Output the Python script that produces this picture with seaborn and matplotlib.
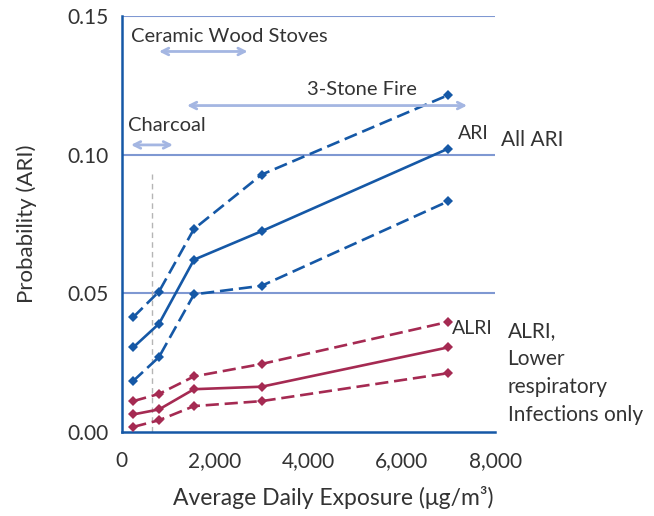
import matplotlib
matplotlib.use("Agg")
import matplotlib.pyplot as plt
import pandas as pd
import seaborn as sns

# exposure levels (ug/m3)
exposure = [250, 800, 1550, 3000, 7000]

# ARI probability with bounds
ari_mid = [0.0305, 0.0390, 0.0621, 0.0724, 0.1022]
ari_upper = [0.0414, 0.0506, 0.0732, 0.0928, 0.1215]
ari_lower = [0.0184, 0.0270, 0.0496, 0.0527, 0.0832]

# ALRI probability with bounds
alri_mid = [0.0063, 0.0081, 0.0154, 0.0163, 0.0305]
alri_upper = [0.0111, 0.0137, 0.0200, 0.0245, 0.0397]
alri_lower = [0.0018, 0.0042, 0.0093, 0.0111, 0.0212]

# stove exposure ranges (start, end) and labels
stove_names = ["Ceramic Wood Stoves", "3-Stone Fire", "Charcoal"]
stove_ranges = [(800, 2700), (1400, 7400), (200, 1100)]
stove_arrow_y = [0.1372, 0.1177, 0.1035]
stove_label_xy = [(200, 0.1427), (5150, 0.1236), (130, 0.1104)]

threshold_x = 650

blue = "#1558a6"
red = "#a52a52"
grid_col = "#7f98d2"
arrow_col = "#a4b6e2"
text_col = "#333333"

rows = []
for outcome, vals in [("ARI", (ari_mid, ari_upper, ari_lower)),
                      ("ALRI", (alri_mid, alri_upper, alri_lower))]:
    for bound, series in zip(["mid", "upper", "lower"], vals):
        for x, y in zip(exposure, series):
            rows.append({"exposure": x, "probability": y, "outcome": outcome, "bound": bound})
df = pd.DataFrame(rows)

sns.set_style("white")
plt.rcParams["font.family"] = ["Lato", "DejaVu Sans"]

fig = plt.figure(figsize=(6.54, 5.16), dpi=100)
ax = fig.add_axes([0.186, 0.163, 0.571, 0.806])

sns.lineplot(data=df, x="exposure", y="probability", hue="outcome", style="bound",
             palette={"ARI": blue, "ALRI": red},
             dashes={"mid": "", "upper": (5, 2.2), "lower": (5, 2.2)},
             markers={"mid": "D", "upper": "D", "lower": "D"},
             markersize=5.5, markeredgewidth=0, linewidth=1.9,
             estimator=None, legend=False, ax=ax, zorder=3)

ax.set_xlim(0, 8000)
ax.set_ylim(0, 0.15)
ax.set_xticks([0, 2000, 4000, 6000, 8000])
ax.set_xticklabels(["0", "2,000", "4,000", "6,000", "8,000"])
ax.set_yticks([0, 0.05, 0.10, 0.15])
ax.set_yticklabels(["0.00", "0.05", "0.10", "0.15"])

for y in [0.05, 0.10, 0.15]:
    ax.axhline(y, color=grid_col, lw=1.5, zorder=1)

for side in ["top", "right"]:
    ax.spines[side].set_visible(False)
for side in ["left", "bottom"]:
    ax.spines[side].set_color(blue)
    ax.spines[side].set_linewidth(1.8)

ax.tick_params(axis="both", colors=blue, length=6, width=1.2, labelsize=15,
               labelcolor=text_col, direction="out")
ax.tick_params(axis="x", pad=8)

ax.axvline(threshold_x, ymin=0, ymax=0.62, color="#b5b5b5", lw=1, ls=(0, (4, 3)), zorder=2)

for name, (x0, x1), ya, (tx, ty) in zip(stove_names, stove_ranges, stove_arrow_y, stove_label_xy):
    ax.annotate("", xy=(x1, ya), xytext=(x0, ya),
                arrowprops=dict(arrowstyle="<->", color=arrow_col, lw=2,
                                mutation_scale=12, shrinkA=0, shrinkB=0))
    ha = "center" if name == "3-Stone Fire" else "left"
    ax.text(tx, ty, name, fontsize=14.5, color=text_col, ha=ha, va="center")

ax.text(7200, 0.1075, "ARI", fontsize=14, color=text_col, ha="left", va="center")
ax.text(7080, 0.0372, "ALRI", fontsize=14, color=text_col, ha="left", va="center")

fig.text(0.766, 0.728, "All ARI", fontsize=15, color=text_col, ha="left", va="center")
fig.text(0.776, 0.378, "ALRI,\nLower\nrespiratory\nInfections only", fontsize=15,
         color=text_col, ha="left", va="top", linespacing=1.5)

ax.set_xlabel("Average Daily Exposure (\u03bcg/m\u00b3)", fontsize=16.5, color=text_col, va="center")
ax.xaxis.set_label_coords(0.566, -0.157)
ax.set_ylabel("Probability (ARI)", fontsize=16, color=text_col, labelpad=22)

fig.savefig("out.png", dpi=100)
